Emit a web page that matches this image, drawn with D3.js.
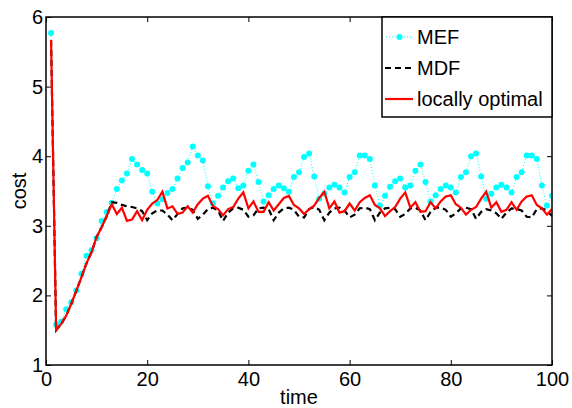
<!DOCTYPE html>
<html>
<head>
<meta charset="utf-8">
<script src="https://cdn.jsdelivr.net/npm/d3@7"></script>
<style>
  body { margin: 0; background: #fff; }
  svg text { font-family: "Liberation Sans", Arial, sans-serif; }
</style>
</head>
<body>
<svg id="chart" width="572" height="408"></svg>
<script>
const xTicks = [0, 20, 40, 60, 80, 100];
const yTicks = [1, 2, 3, 4, 5, 6];
const seriesNames = ["MEF", "MDF", "locally optimal"];

const mef = [5.77,1.58,1.62,1.80,1.90,2.07,2.31,2.57,2.65,2.82,
  3.07,3.20,3.33,3.53,3.65,3.75,3.96,3.88,3.80,3.75,
  3.49,3.32,3.38,3.47,3.53,3.68,3.83,3.91,4.14,4.01,
  3.94,3.57,3.32,3.43,3.55,3.64,3.68,3.54,3.58,3.79,
  3.88,3.63,3.35,3.44,3.53,3.58,3.54,3.49,3.70,3.77,
  3.99,4.04,3.71,3.39,3.46,3.55,3.59,3.55,3.48,3.70,
  3.77,4.01,4.01,3.96,3.58,3.29,3.43,3.56,3.64,3.68,
  3.55,3.58,3.79,3.88,3.63,3.35,3.44,3.53,3.58,3.55,
  3.48,3.70,3.77,4.00,4.04,3.71,3.39,3.46,3.55,3.59,
  3.55,3.48,3.70,3.77,4.01,4.01,3.96,3.58,3.29,3.43];

const mdf = [5.67,1.50,1.59,1.71,1.88,2.07,2.26,2.46,2.62,2.84,
  2.98,3.14,3.34,3.33,3.30,3.28,3.27,3.25,3.21,3.08,
  3.18,3.22,3.22,3.16,3.08,3.17,3.25,3.26,3.23,3.10,
  3.16,3.24,3.26,3.22,3.07,3.19,3.25,3.26,3.23,3.13,
  3.15,3.25,3.26,3.24,3.08,3.19,3.25,3.26,3.23,3.13,
  3.12,3.24,3.27,3.23,3.08,3.19,3.25,3.26,3.22,3.12,
  3.16,3.25,3.26,3.24,3.08,3.19,3.25,3.26,3.24,3.13,
  3.17,3.25,3.26,3.22,3.08,3.20,3.26,3.26,3.23,3.13,
  3.18,3.25,3.26,3.24,3.10,3.20,3.24,3.22,3.18,3.10,
  3.19,3.25,3.24,3.22,3.13,3.12,3.24,3.25,3.22,3.14];

const opt = [5.67,1.50,1.59,1.71,1.88,2.07,2.26,2.46,2.62,2.84,
  2.98,3.14,3.31,3.17,3.26,3.07,3.09,3.21,3.08,3.23,
  3.32,3.37,3.49,3.25,3.28,3.17,3.19,3.28,3.19,3.31,
  3.39,3.43,3.28,3.24,3.15,3.24,3.27,3.39,3.48,3.25,
  3.35,3.20,3.20,3.34,3.22,3.31,3.40,3.43,3.30,3.25,
  3.17,3.24,3.29,3.40,3.49,3.25,3.35,3.19,3.21,3.32,
  3.22,3.34,3.40,3.44,3.30,3.25,3.14,3.21,3.27,3.39,
  3.48,3.26,3.34,3.20,3.21,3.34,3.25,3.35,3.42,3.44,
  3.31,3.26,3.16,3.23,3.27,3.39,3.49,3.26,3.34,3.20,
  3.23,3.34,3.23,3.35,3.42,3.44,3.30,3.25,3.16,3.24];

const svg = d3.select("#chart");
const L = 46, R = 552, T = 17, B = 365;
const x = d3.scaleLinear().domain([0, 100]).range([L, R]);
const y = d3.scaleLinear().domain([1, 6]).range([B, T]);

const fs = 20;
// axes
const gx = svg.append("g").attr("transform", `translate(0,${B})`)
  .call(d3.axisBottom(x).tickValues(xTicks).tickFormat(d3.format("d"))
    .tickSizeInner(-5).tickSizeOuter(0).tickPadding(7));
const gy = svg.append("g").attr("transform", `translate(${L},0)`)
  .call(d3.axisLeft(y).tickValues(yTicks).tickFormat(d3.format("d"))
    .tickSizeInner(-5).tickSizeOuter(0).tickPadding(3));
const gxt = svg.append("g").attr("transform", `translate(0,${T})`)
  .call(d3.axisTop(x).tickValues(xTicks).tickSizeInner(-5).tickSizeOuter(0).tickFormat(""));
const gyr = svg.append("g").attr("transform", `translate(${R},0)`)
  .call(d3.axisRight(y).tickValues(yTicks).tickSizeInner(-5).tickSizeOuter(0).tickFormat(""));
[gx, gy, gxt, gyr].forEach(g => {
  g.select(".domain").remove();
  g.selectAll(".tick line").attr("stroke", "#000").attr("stroke-width", 1);
  g.selectAll(".tick text").attr("font-size", fs).attr("fill", "#000")
    .attr("font-family", "Liberation Sans, Arial, sans-serif");
});

// lines
const idx = d3.range(1, 101);
const lineGen = arr => d3.line().x((d, i) => x(idx[i])).y(d => y(d))(arr);

svg.append("clipPath").attr("id", "clip").append("rect")
  .attr("x", L).attr("y", T).attr("width", R - L).attr("height", B - T);
const plot = svg.append("g").attr("clip-path", "url(#clip)");

plot.append("path").attr("d", lineGen(mef)).attr("fill", "none")
  .attr("stroke", "#00ffff").attr("stroke-width", 1).attr("stroke-dasharray", "1,2");
plot.selectAll("circle.mef").data(mef).enter().append("circle")
  .attr("cx", (d, i) => x(idx[i])).attr("cy", d => y(d)).attr("r", 3)
  .attr("fill", "#00ffff");
plot.append("path").attr("d", lineGen(mdf)).attr("fill", "none")
  .attr("stroke", "#000").attr("stroke-width", 2.2).attr("stroke-dasharray", "6,4");
plot.append("path").attr("d", lineGen(opt)).attr("fill", "none")
  .attr("stroke", "#ff0000").attr("stroke-width", 2.2).attr("stroke-linejoin", "miter");

// frame
svg.append("rect").attr("x", L).attr("y", T).attr("width", R - L).attr("height", B - T)
  .attr("fill", "none").attr("stroke", "#000").attr("stroke-width", 1.5);

// axis titles
svg.append("text").attr("x", (L + R) / 2).attr("y", 404).attr("text-anchor", "middle")
  .attr("font-size", fs).text("time");
svg.append("text").attr("transform", `translate(26,${(T + B) / 2}) rotate(-90)`)
  .attr("text-anchor", "middle").attr("font-size", fs).text("cost");

// legend
const lg = svg.append("g");
const lx0 = 382, ly0 = T, lw = R - lx0, lh = 100;
lg.append("rect").attr("x", lx0).attr("y", ly0).attr("width", lw).attr("height", lh)
  .attr("fill", "#fff").attr("stroke", "#000").attr("stroke-width", 1.5);
const rowY = [37, 68, 99];
// MEF
lg.append("line").attr("x1", 386).attr("x2", 413).attr("y1", rowY[0]).attr("y2", rowY[0])
  .attr("stroke", "#00ffff").attr("stroke-width", 1).attr("stroke-dasharray", "1,2");
lg.append("circle").attr("cx", 399.5).attr("cy", rowY[0]).attr("r", 3).attr("fill", "#00ffff");
// MDF
lg.append("line").attr("x1", 385).attr("x2", 413).attr("y1", rowY[1]).attr("y2", rowY[1])
  .attr("stroke", "#000").attr("stroke-width", 2.2).attr("stroke-dasharray", "6,4");
// optimal
lg.append("line").attr("x1", 385).attr("x2", 413).attr("y1", rowY[2]).attr("y2", rowY[2])
  .attr("stroke", "#ff0000").attr("stroke-width", 2.2);
seriesNames.forEach((n, i) => {
  lg.append("text").attr("x", 417).attr("y", rowY[i]).attr("dy", "0.36em")
    .attr("font-size", fs).text(n);
});
</script>
</body>
</html>
